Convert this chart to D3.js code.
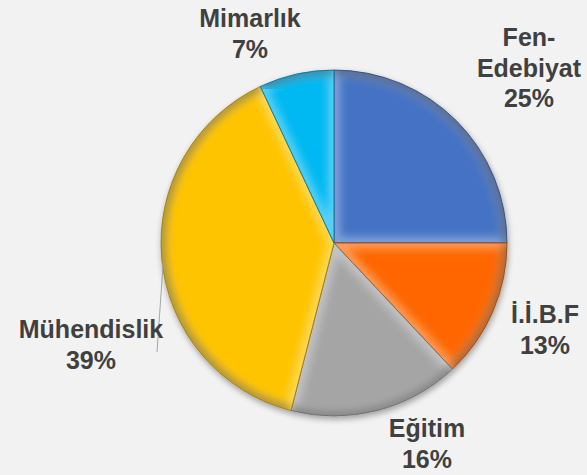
<!DOCTYPE html>
<html>
<head>
<meta charset="utf-8">
<script src="https://cdn.jsdelivr.net/npm/d3@7"></script>
<style>
  html, body { margin: 0; padding: 0; background: #f2f2f2; }
  svg { display: block; }
  .lbl { font-family: "Liberation Sans", Arial, sans-serif; font-weight: bold; font-size: 25px; fill: #404040; }
</style>
</head>
<body>
<div class="pie"></div>
<script>
// data
const faculties = ["Fen-Edebiyat", "İ.İ.B.F", "Eğitim", "Mühendislik", "Mimarlık"];
const shares = [25, 13, 16, 39, 7];
const colors = ["#4472c4", "#ff6600", "#a5a5a5", "#ffc400", "#00b8f2"];

// label lines and where they sit (offset from pie centre)
const labelLines = [["Fen-", "Edebiyat", "25%"], ["İ.İ.B.F", "13%"], ["Eğitim", "16%"], ["Mühendislik", "39%"], ["Mimarlık", "7%"]];
const labelOffsets = [[195, -197], [211, 80], [93, 194], [-243, 95], [-84, -216]];

const width = 587, height = 475;
const cx = 334, cy = 243, radius = 173;
const lineH = 30.5;

const svg = d3.select(".pie")
  .append("svg")
  .attr("width", width)
  .attr("height", height);

svg.append("rect").attr("width", width).attr("height", height).attr("fill", "#f2f2f2");

const defs = svg.append("defs");

// soft drop shadow
const shadow = defs.append("filter").attr("id", "shadow")
  .attr("x", "-20%").attr("y", "-20%").attr("width", "140%").attr("height", "140%");
shadow.append("feGaussianBlur").attr("in", "SourceAlpha").attr("stdDeviation", 3).attr("result", "b");
shadow.append("feOffset").attr("in", "b").attr("dx", 1).attr("dy", 3).attr("result", "o");
shadow.append("feComponentTransfer").attr("in", "o").attr("result", "s")
  .append("feFuncA").attr("type", "linear").attr("slope", 0.35);
const merge = shadow.append("feMerge");
merge.append("feMergeNode").attr("in", "s");
merge.append("feMergeNode").attr("in", "SourceGraphic");

// blur for the bevel edges
defs.append("filter").attr("id", "soft")
  .append("feGaussianBlur").attr("stdDeviation", 4);

const pie = d3.pie().sort(null).value(d => d);
const arcs = pie(shares);
const arc = d3.arc().innerRadius(0).outerRadius(radius);

const g = svg.append("g")
  .attr("transform", "translate(" + cx + "," + cy + ")");

// clip paths per slice
arcs.forEach((d, i) => {
  defs.append("clipPath").attr("id", "clip" + i)
    .append("path").attr("d", arc(d));
});

const slices = g.append("g").attr("filter", "url(#shadow)")
  .selectAll(".slice")
  .data(arcs)
  .join("g")
  .attr("class", "slice");

slices.append("path")
  .attr("d", arc)
  .attr("fill", (d, i) => colors[i]);

// bevel: light inner edge + darker rim, clipped to the slice
const bevel = slices.append("g").attr("clip-path", (d, i) => "url(#clip" + i + ")");
bevel.append("path")
  .attr("d", arc)
  .attr("fill", "none")
  .attr("stroke", "#ffffff")
  .attr("stroke-opacity", 0.35)
  .attr("stroke-width", 12)
  .attr("filter", "url(#soft)");
bevel.append("path")
  .attr("d", d3.arc().innerRadius(radius).outerRadius(radius))
  .attr("fill", "none")
  .attr("stroke", "#000")
  .attr("stroke-opacity", 0.35)
  .attr("stroke-width", 10)
  .attr("filter", "url(#soft)");

slices.append("path")
  .attr("d", arc)
  .attr("fill", "none")
  .attr("stroke", (d, i) => d3.color(colors[i]).darker(1.4))
  .attr("stroke-width", 0.8);

// leader line for Mühendislik
const mIdx = 3;
const edgeAngle = Math.PI * 1.463;
svg.append("line")
  .attr("x1", cx + radius * Math.sin(edgeAngle) + 1)
  .attr("y1", cy - radius * Math.cos(edgeAngle))
  .attr("x2", cx + labelOffsets[mIdx][0] + 66)
  .attr("y2", cy + labelOffsets[mIdx][1] + 14)
  .attr("stroke", "#a6a6a6")
  .attr("stroke-width", 1);

// labels
const labels = svg.selectAll(".lbl")
  .data(faculties)
  .join("text")
  .attr("class", "lbl")
  .attr("text-anchor", "middle")
  .attr("x", (d, i) => cx + labelOffsets[i][0])
  .attr("y", (d, i) => cy + labelOffsets[i][1]);

labels.selectAll("tspan")
  .data((d, i) => labelLines[i])
  .join("tspan")
  .attr("x", function () { return this.parentNode.getAttribute("x"); })
  .attr("dy", (t, j) => j === 0 ? 0 : lineH)
  .text(t => t);
</script>
</body>
</html>
